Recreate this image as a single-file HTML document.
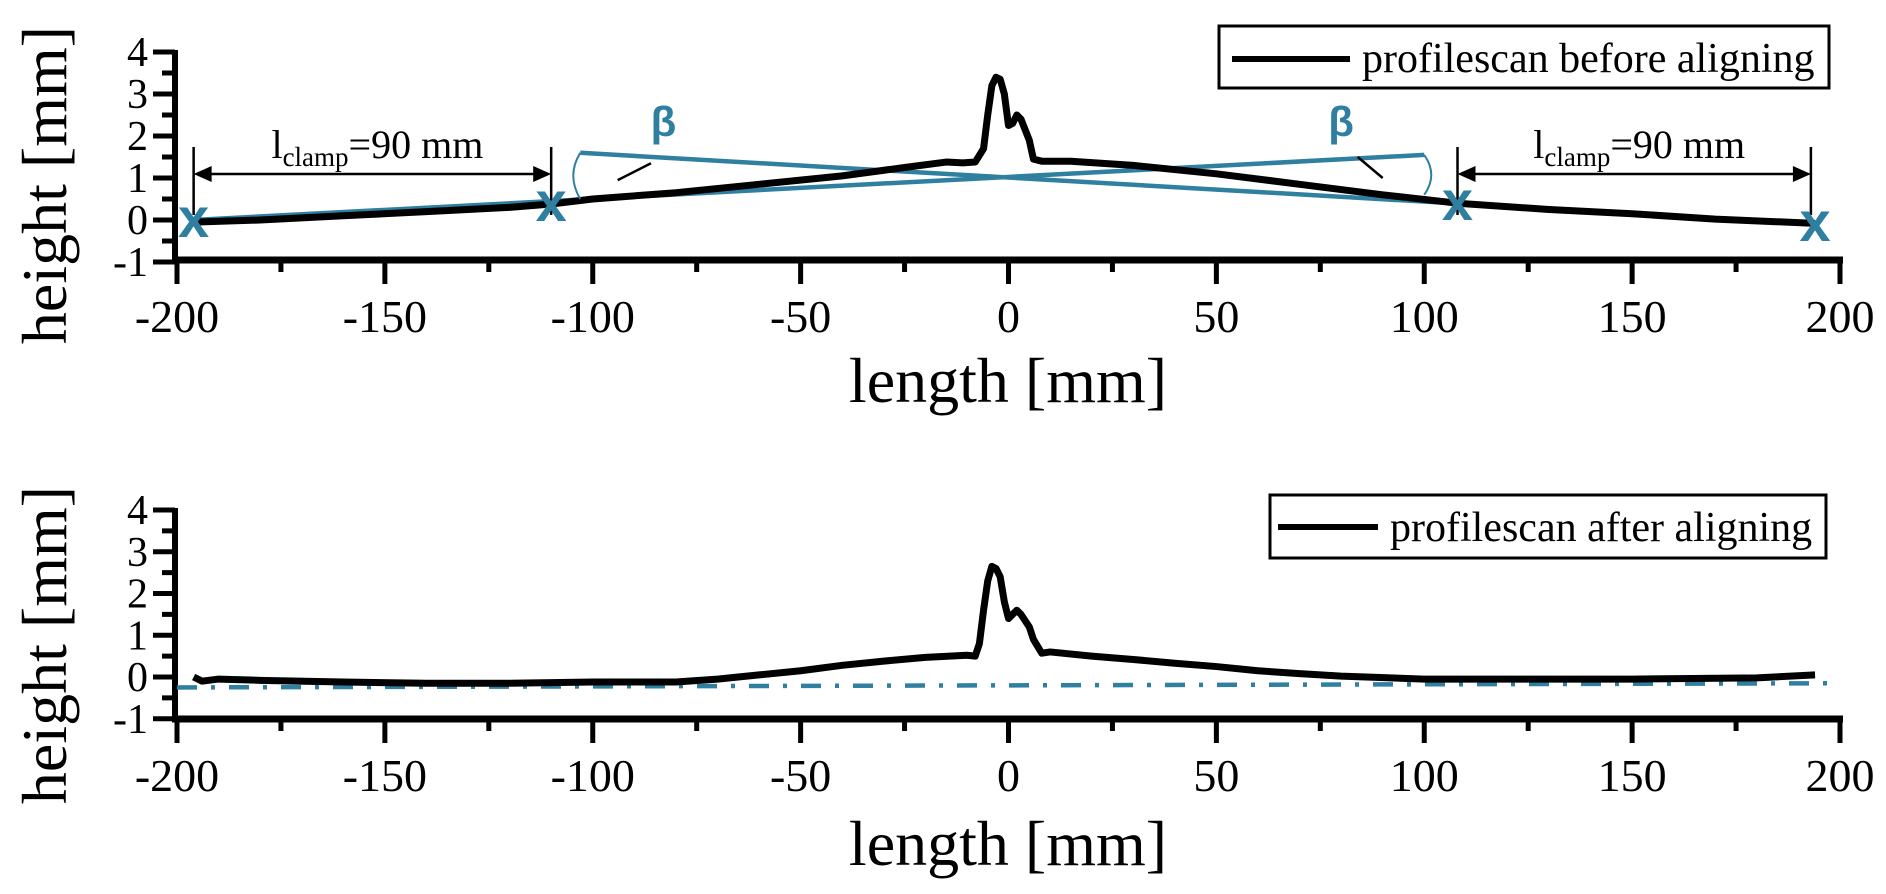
<!DOCTYPE html>
<html><head><meta charset="utf-8">
<style>
html,body{margin:0;padding:0;background:#fff;}
svg{display:block;font-family:"Liberation Serif",serif;}
</style></head>
<body>
<svg id="chart" width="1886" height="894" viewBox="0 0 1886 894" xmlns="http://www.w3.org/2000/svg"></svg>
<script>
// ---- data ----
const topX = [-196,-180,-160,-140,-120,-110,-100,-80,-60,-40,-25,-15,-11,-8,-6,-5,-4,-3,-2,-1,0,1,2,3,5,6,8,15,30,50,70,90,108,130,150,170,194];
const topY = [-0.05,0.0,0.1,0.2,0.3,0.38,0.5,0.65,0.85,1.05,1.25,1.38,1.36,1.38,1.7,2.5,3.2,3.4,3.35,3.0,2.25,2.3,2.5,2.4,1.9,1.45,1.4,1.4,1.3,1.1,0.85,0.6,0.4,0.25,0.15,0.02,-0.08];
const botX = [-196,-194,-190,-180,-160,-140,-120,-100,-80,-70,-60,-50,-40,-30,-20,-10,-8,-7,-6,-5,-4,-3,-2,-1,0,1,2,3,5,6,8,10,20,30,40,50,60,70,80,100,120,150,180,194];
const botY = [0.0,-0.1,-0.05,-0.08,-0.12,-0.15,-0.15,-0.12,-0.12,-0.05,0.05,0.15,0.28,0.38,0.47,0.52,0.5,0.8,1.6,2.3,2.65,2.6,2.4,1.8,1.4,1.5,1.6,1.5,1.2,0.9,0.57,0.6,0.5,0.42,0.33,0.25,0.15,0.08,0.02,-0.05,-0.05,-0.05,-0.02,0.05];
const xTicks = [-200,-150,-100,-50,0,50,100,150,200];
const yTicks = [-1,0,1,2,3,4];
const clampMarksX = [-196,-110,108,194];
const clampMarksY = [0.0,0.38,0.4,-0.1];
const lineA = [[-196,0.0],[100,1.55]];
const lineB = [[-103,1.6],[194,-0.1]];
const baseline = [[-200,-0.25],[200,-0.15]];

const svg = document.getElementById('chart');
const NS = 'http://www.w3.org/2000/svg';
function mk(tag, attrs, parent){const e=document.createElementNS(NS,tag);for(const k in attrs)e.setAttribute(k,attrs[k]);(parent||svg).appendChild(e);return e;}
const X = v => 177 + (v+200)*1663/400;
const panels = [
  {y0:220, k:42, axisY:260, name:'top'},
  {y0:677, k:41.75, axisY:719, name:'bottom'}
];
const BLUE = '#2f7fa0';

panels.forEach((p, pi) => {
  const Y = v => p.y0 - p.k*v;
  const g = mk('g', {});
  
  
  const ya = mk('line',{x1:175,y1:Y(4)-2,x2:175,y2:p.axisY+3,stroke:'#000','stroke-width':6},g);
  
  
  for(let v=-1; v<=4; v+=0.5){
    const major = Number.isInteger(v);
    mk('line',{x1:major?153:162,y1:Y(v),x2:175,y2:Y(v),stroke:'#000','stroke-width':5},g);
  }
  yTicks.forEach(v=>{
    const t = mk('text',{x:148,y:Y(v)+14,'text-anchor':'end','font-size':42},g);
    t.textContent = v;
    
    
  });
  const xa = mk('line',{x1:172,y1:p.axisY,x2:X(200)+3,y2:p.axisY,stroke:'#000','stroke-width':7},g);
  
  
  for(let v=-200; v<=200; v+=25){
    const major = v%50===0;
    mk('line',{x1:X(v),y1:p.axisY,x2:X(v),y2:p.axisY+(major?24:12),stroke:'#000','stroke-width':5},g);
  }
  xTicks.forEach(v=>{
    const t = mk('text',{x:X(v),y:p.axisY+72,'text-anchor':'middle','font-size':46},g);
    t.textContent = v;
    
    
  });
  const xt = mk('text',{x:1008,y:p.axisY+(pi===0?142:146),'text-anchor':'middle','font-size':64},g);
  xt.textContent = 'length [mm]';
  
  
  const cy = pi===0?185:645;
  const yt = mk('text',{x:0,y:0,'text-anchor':'middle','font-size':64,transform:`translate(66,${cy}) rotate(-90)`},g);
  yt.textContent = 'height [mm]';
  
  

  if(pi===0){
    [lineA,lineB].forEach((L,i)=>{
      const l = mk('line',{x1:X(L[0][0]),y1:Y(L[0][1]),x2:X(L[1][0]),y2:Y(L[1][1]),stroke:BLUE,'stroke-width':4.5},g);
      
      
    });
    const pl = mk('polyline',{points:topX.map((x,i)=>X(x)+','+Y(topY[i])).join(' '),fill:'none',stroke:'#000','stroke-width':7,'stroke-linejoin':'round'},g);
    
    
    const a1x=X(-103), a1y=Y(1.6);
    mk('path',{d:`M ${a1x} ${a1y} Q ${a1x-14} ${(a1y+Y(0.52))/2} ${a1x} ${Y(0.5)}`,fill:'none',stroke:BLUE,'stroke-width':2},g);
    const a2x=X(100), a2y=Y(1.55);
    mk('path',{d:`M ${a2x} ${a2y} Q ${a2x+14} ${(a2y+Y(0.6))/2} ${a2x} ${Y(0.6)}`,fill:'none',stroke:BLUE,'stroke-width':2},g);
    mk('line',{x1:X(-94),y1:Y(0.95),x2:X(-86),y2:Y(1.35),stroke:'#000','stroke-width':2.5},g);
    mk('line',{x1:X(84),y1:Y(1.5),x2:X(90),y2:Y(1.0),stroke:'#000','stroke-width':2.5},g);
    [[-83,2.0],[80,2.0]].forEach(b=>{
      const t = mk('text',{x:X(b[0]),y:Y(b[1]),'text-anchor':'middle','font-size':42,'font-weight':'bold',fill:BLUE,'font-family':'Liberation Sans, sans-serif'},g);
      t.textContent='β';
      
      
    });
    [[-196,-110],[108,193]].forEach(c=>{
      const x1=X(c[0]), x2=X(c[1]), ay=174;
      const dg = mk('g',{},g);
      
      
      mk('line',{x1:x1,y1:147,x2:x1,y2:215,stroke:'#000','stroke-width':2.5},dg);
      mk('line',{x1:x2,y1:147,x2:x2,y2:215,stroke:'#000','stroke-width':2.5},dg);
      mk('line',{x1:x1+14,y1:ay,x2:x2-14,y2:ay,stroke:'#000','stroke-width':2.5},dg);
      mk('polygon',{points:`${x1},${ay} ${x1+18},${ay-8} ${x1+18},${ay+8}`,fill:'#000'},dg);
      mk('polygon',{points:`${x2},${ay} ${x2-18},${ay-8} ${x2-18},${ay+8}`,fill:'#000'},dg);
      const t = mk('text',{x:(x1+x2)/2+5,y:158,'text-anchor':'middle','font-size':40},dg);
      t.innerHTML = 'l<tspan font-size="27" dy="8">clamp</tspan><tspan dy="-8">=90 mm</tspan>';
    });
    clampMarksX.forEach((x,i)=>{
      const t = mk('text',{x:X(x),y:Y(clampMarksY[i])+17,'text-anchor':'middle','font-size':56,'font-weight':'bold',fill:BLUE,'font-family':'Liberation Sans, sans-serif'},g);
      t.textContent='x';
      
      
    });
    const lg = mk('g',{},g);
    
    
    mk('rect',{x:1219,y:26,width:610,height:62,fill:'#fff',stroke:'#000','stroke-width':3},lg);
    mk('line',{x1:1232,y1:59,x2:1350,y2:59,stroke:'#000','stroke-width':6},lg);
    const lt = mk('text',{x:1362,y:72,'font-size':42},lg);
    lt.textContent='profilescan before aligning';
  } else {
    const bl = mk('line',{x1:X(baseline[0][0]),y1:Y(baseline[0][1]),x2:X(baseline[1][0]),y2:Y(baseline[1][1]),stroke:BLUE,'stroke-width':4.5,'stroke-dasharray':'20 14 4 14'},g);
    
    
    const pl = mk('polyline',{points:botX.map((x,i)=>X(x)+','+Y(botY[i])).join(' '),fill:'none',stroke:'#000','stroke-width':7,'stroke-linejoin':'round'},g);
    
    
    const lg = mk('g',{},g);
    
    
    mk('rect',{x:1270,y:495,width:556,height:63,fill:'#fff',stroke:'#000','stroke-width':3},lg);
    mk('line',{x1:1278,y1:527,x2:1378,y2:527,stroke:'#000','stroke-width':6},lg);
    const lt = mk('text',{x:1390,y:541,'font-size':42},lg);
    lt.textContent='profilescan after aligning';
  }
});
</script>
</body></html>
